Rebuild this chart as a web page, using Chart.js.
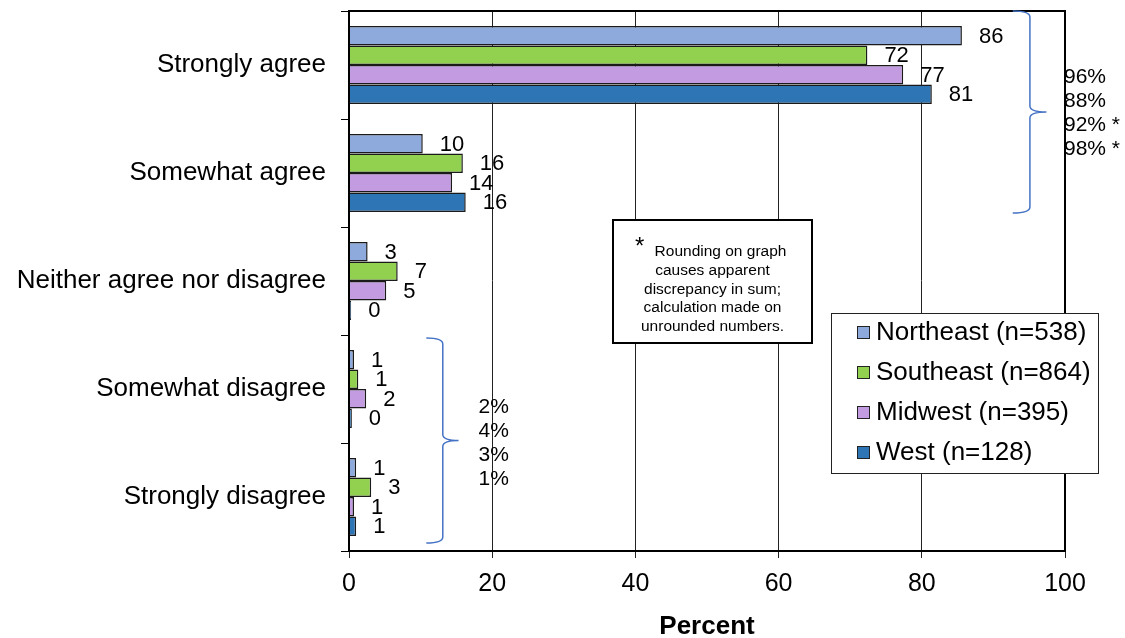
<!DOCTYPE html>
<html lang="en">
<head>
<meta charset="UTF-8">
<title>Agreement by region</title>
<script src="https://cdn.jsdelivr.net/npm/chart.js"></script>
<style>
  body { margin: 0; background: #fff; }
  #wrap { width: 1125px; height: 638px; position: relative; }
</style>
</head>
<body>
<div id="wrap"><canvas id="chart"></canvas></div>
<script>
// categories (top to bottom) and the share of each region, in percent
const categories = ['Strongly agree', 'Somewhat agree', 'Neither agree nor disagree', 'Somewhat disagree', 'Strongly disagree'];
const northeast = [85.6, 10.3, 2.6, 0.7, 1.0];
const southeast = [72.4, 15.9, 6.8, 1.3, 3.1];
const midwest   = [77.4, 14.4, 5.2, 2.4, 0.7];
const west      = [81.4, 16.3, 0.3, 0.4, 1.0];
const regionNames = ['Northeast (n=538)', 'Southeast (n=864)', 'Midwest (n=395)', 'West (n=128)'];
const regionColors = ['#8eaadc', '#92d050', '#c39be0', '#2e75b6'];
const xTickValues = [0, 20, 40, 60, 80, 100];
const footnote = ['Rounding on graph', 'causes apparent', 'discrepancy in sum;', 'calculation made on', 'unrounded numbers.'];

const FONT = 'Liberation Sans, Arial, sans-serif';
const series = [northeast, southeast, midwest, west];

// combined "agree" and "disagree" totals, starred when the rounded parts don't add up
function totals(a, b) {
  return series.map(s => {
    const sum = Math.round(s[a] + s[b]);
    const parts = Math.round(s[a]) + Math.round(s[b]);
    return sum + '%' + (sum !== parts ? ' *' : '');
  });
}
const agreeTotals = totals(0, 1);
const disagreeTotals = totals(3, 4);

function brace(ctx, xOuter, xInner, xTip, yTop, yTip, yBot) {
  ctx.beginPath();
  ctx.moveTo(xOuter, yTop);
  ctx.quadraticCurveTo(xInner, yTop, xInner, yTop + 6);
  ctx.lineTo(xInner, yTip - 6);
  ctx.quadraticCurveTo(xInner, yTip, xTip, yTip);
  ctx.quadraticCurveTo(xInner, yTip, xInner, yTip + 6);
  ctx.lineTo(xInner, yBot - 6);
  ctx.quadraticCurveTo(xInner, yBot, xOuter, yBot);
  ctx.stroke();
}

const extras = {
  id: 'extras',
  afterDatasetsDraw(chart) {
    const ctx = chart.ctx;
    const area = chart.chartArea;
    const xs = chart.scales.x, ys = chart.scales.y;
    ctx.save();

    // frame around the plot
    ctx.strokeStyle = '#000';
    ctx.lineWidth = 2;
    ctx.strokeRect(area.left, area.top, area.right - area.left, area.bottom - area.top);

    // value labels at the end of each bar
    ctx.fillStyle = '#000';
    ctx.font = '22px ' + FONT;
    ctx.textAlign = 'left';
    ctx.textBaseline = 'middle';
    chart.data.datasets.forEach((ds, i) => {
      chart.getDatasetMeta(i).data.forEach((bar, j) => {
        ctx.fillText(String(Math.round(ds.data[j])), bar.x + 17, bar.y + 1);
      });
    });

    // braces
    ctx.strokeStyle = '#4472c4';
    ctx.lineWidth = 1.5;
    const yTopR = area.top;
    const yBotR = ys.getPixelForValue(1) + 40;
    brace(ctx, xs.getPixelForValue(92.7), xs.getPixelForValue(95.1), xs.getPixelForValue(97.4),
      yTopR, (yTopR + yBotR) / 2, yBotR);
    const yTopL = ys.getPixelForValue(3) - 51;
    const yBotL = ys.getPixelForValue(4) + 46;
    brace(ctx, xs.getPixelForValue(10.8), xs.getPixelForValue(13.1), xs.getPixelForValue(15.3),
      yTopL, (yTopL + yBotL) / 2, yBotL);

    // totals
    ctx.fillStyle = '#000';
    ctx.font = '21px ' + FONT;
    ctx.textAlign = 'left';
    const yAgree = ys.getPixelForValue(0) + 12;
    agreeTotals.forEach((t, i) => ctx.fillText(t, area.right - 1, yAgree + i * 24));
    ctx.textAlign = 'center';
    const yDis = (ys.getPixelForValue(3) + ys.getPixelForValue(4)) / 2 - 36;
    disagreeTotals.forEach((t, i) => ctx.fillText(t, xs.getPixelForValue(20.2), yDis + i * 24));

    // footnote box
    const fx = 613, fy = 220, fw = 199, fh = 123;
    ctx.fillStyle = '#fff';
    ctx.fillRect(fx, fy, fw, fh);
    ctx.strokeStyle = '#000';
    ctx.lineWidth = 2;
    ctx.strokeRect(fx, fy, fw, fh);
    ctx.fillStyle = '#000';
    ctx.font = '24px ' + FONT;
    ctx.textAlign = 'left';
    ctx.fillText('*', fx + 22, fy + 27);
    ctx.font = '15.5px ' + FONT;
    ctx.textAlign = 'center';
    footnote.forEach((line, i) => {
      const cx = i === 0 ? fx + fw / 2 + 8 : fx + fw / 2;
      ctx.fillText(line, cx, fy + 32 + i * 18.7);
    });

    // legend box
    const lx = 831, ly = 313, lw = 267, lh = 160;
    ctx.fillStyle = '#fff';
    ctx.fillRect(lx, ly, lw, lh);
    ctx.strokeStyle = '#222';
    ctx.lineWidth = 1;
    ctx.strokeRect(lx + 0.5, ly + 0.5, lw, lh);
    ctx.font = '26px ' + FONT;
    ctx.textAlign = 'left';
    chart.data.datasets.forEach((ds, i) => {
      const cy = ly + 19 + i * 40;
      ctx.fillStyle = ds.backgroundColor;
      ctx.fillRect(857, cy - 6, 12, 12);
      ctx.strokeStyle = '#222';
      ctx.strokeRect(857.5, cy - 5.5, 12, 12);
      ctx.fillStyle = '#000';
      ctx.fillText(ds.label, 876, cy + 1);
    });

    ctx.restore();
  }
};

new Chart(document.getElementById('chart'), {
  type: 'bar',
  data: {
    labels: categories,
    datasets: series.map((data, i) => ({
      label: regionNames[i],
      data: data,
      backgroundColor: regionColors[i],
      borderColor: '#1a1a1a',
      borderWidth: 1.5,
      categoryPercentage: 0.72,
      barPercentage: 1.0
    }))
  },
  options: {
    indexAxis: 'y',
    responsive: true,
    maintainAspectRatio: false,
    animation: false,
    layout: { padding: { left: 0, right: 60, top: 11, bottom: 0 } },
    plugins: { legend: { display: false }, tooltip: { enabled: false } },
    scales: {
      x: {
        min: 0,
        max: 100,
        afterBuildTicks: scale => { scale.ticks = xTickValues.map(v => ({ value: v })); },
        afterFit: scale => { scale.height = 87; },
        grid: { color: '#222', lineWidth: 1, tickLength: 7, drawTicks: true },
        border: { display: true, color: '#000', width: 2 },
        ticks: { color: '#000', font: { family: FONT, size: 25 }, padding: 11, maxRotation: 0 },
        title: { display: true, text: 'Percent', color: '#000', font: { family: FONT, size: 26, weight: 'bold', lineHeight: 0.85 }, padding: { top: 0, bottom: 0 } }
      },
      y: {
        afterFit: scale => {
          scale.width = 349;
          scale.paddingTop = 0;
          scale.paddingBottom = 0;
        },
        grid: { drawOnChartArea: false, drawTicks: true, tickLength: 8, color: '#000', offset: true },
        border: { display: true, color: '#000', width: 2 },
        ticks: { color: '#000', font: { family: FONT, size: 26 }, padding: 15 }
      }
    }
  },
  plugins: [extras]
});
</script>
</body>
</html>
